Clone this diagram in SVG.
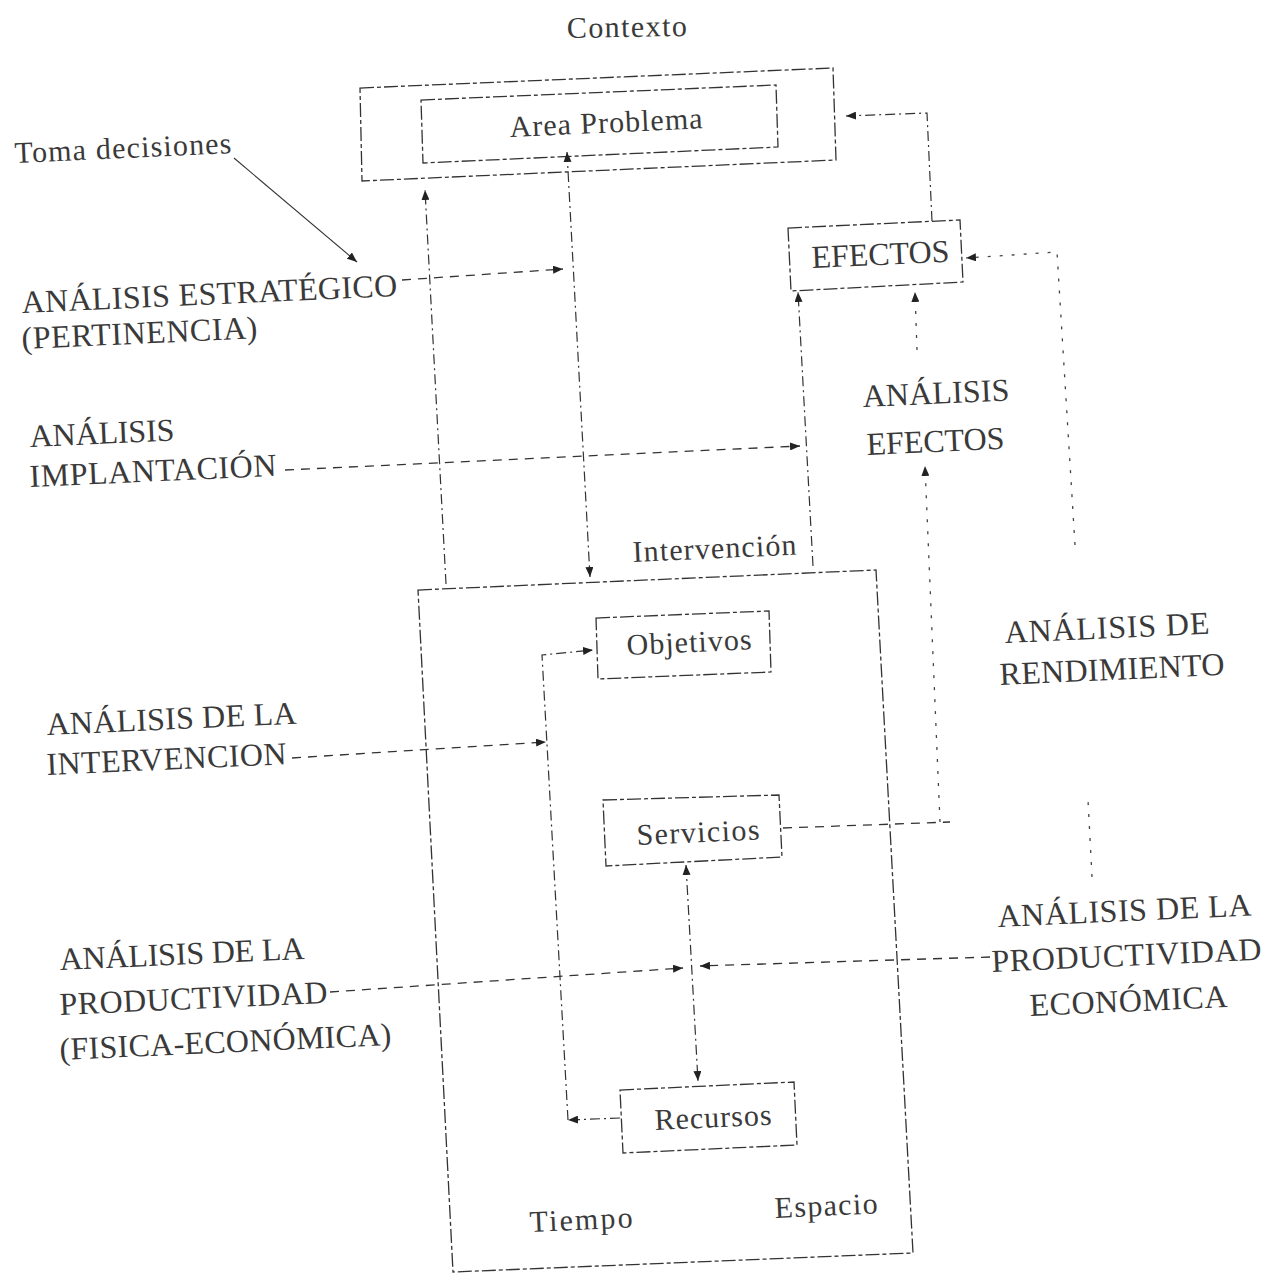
<svg xmlns="http://www.w3.org/2000/svg" width="1270" height="1273" viewBox="0 0 1270 1273">
<style>
.bg{fill:#ffffff}
.box{fill:none;stroke:#333;stroke-width:1.3;stroke-dasharray:14 3 4 3}
.dash{fill:none;stroke:#333;stroke-width:1.3;stroke-dasharray:9 7}
.dd{fill:none;stroke:#333;stroke-width:1.2;stroke-dasharray:10 4 2 4}
.dot{fill:none;stroke:#444;stroke-width:1.3;stroke-dasharray:3 9}
.solid{fill:none;stroke:#333;stroke-width:1.1}
.t{font-family:"Liberation Serif","Times New Roman",serif;font-size:32px;fill:#3a3a3a}
.s{font-size:30px}
</style>
<defs>
<marker id="ah" viewBox="0 0 10 8" refX="10" refY="4" markerWidth="10" markerHeight="8" markerUnits="userSpaceOnUse" orient="auto-start-reverse"><path d="M0,0 L10,4 L0,8 z" fill="#222"/></marker>
</defs>
<rect class="bg" x="0" y="0" width="1270" height="1273"/>

<g id="contexto">
<polygon class="box" points="360,88 833,68 836,160 362,181"/>
<text class="t s" x="567" y="38" textLength="120" lengthAdjust="spacing" transform="rotate(-1 567 38)">Contexto</text>
</g>
<g id="area-problema">
<polygon class="box" points="421,100 776,85 778,147 423,163"/>
<text class="t s" x="510" y="137" textLength="193" lengthAdjust="spacing" transform="rotate(-2.6 510 137)">Area Problema</text>
</g>
<g id="efectos">
<polygon class="box" points="788,228 960,220 963,282 791,291"/>
<text class="t" x="812" y="268" textLength="138" lengthAdjust="spacing" transform="rotate(-2.6 812 268)">EFECTOS</text>
</g>
<g id="intervencion">
<polygon class="box" points="418,590 876,570 913,1253 453,1272"/>
<text class="t s" x="633" y="562" textLength="164" lengthAdjust="spacing" transform="rotate(-2.6 633 562)">Intervención</text>
<text class="t s" x="530" y="1232" textLength="103" lengthAdjust="spacing" transform="rotate(-2.6 530 1232)">Tiempo</text>
<text class="t s" x="775" y="1218" textLength="103" lengthAdjust="spacing" transform="rotate(-2.6 775 1218)">Espacio</text>
</g>
<g id="objetivos">
<polygon class="box" points="596,618 769,611 771,672 598,679"/>
<text class="t s" x="627" y="655" textLength="125" lengthAdjust="spacing" transform="rotate(-2.6 627 655)">Objetivos</text>
</g>
<g id="servicios">
<polygon class="box" points="603,800 779,795 782,857 606,866"/>
<text class="t s" x="637" y="845" textLength="123" lengthAdjust="spacing" transform="rotate(-2.6 637 845)">Servicios</text>
</g>
<g id="recursos">
<polygon class="box" points="620,1090 794,1082 797,1145 623,1153"/>
<text class="t s" x="655" y="1130" textLength="117" lengthAdjust="spacing" transform="rotate(-2.6 655 1130)">Recursos</text>
</g>

<g id="toma-decisiones">
<text class="t s" x="15" y="163" textLength="217" lengthAdjust="spacing" transform="rotate(-2.6 15 163)">Toma decisiones</text>
</g>
<g id="analisis-estrategico">
<text class="t" x="22" y="313" textLength="376" lengthAdjust="spacing" transform="rotate(-2.6 22 313)">ANÁLISIS ESTRATÉGICO</text>
<text class="t" x="22" y="349" textLength="236" lengthAdjust="spacing" transform="rotate(-2.6 22 349)">(PERTINENCIA)</text>
</g>
<g id="analisis-implantacion">
<text class="t" x="30" y="447" textLength="145" lengthAdjust="spacing" transform="rotate(-2.6 30 447)">ANÁLISIS</text>
<text class="t" x="30" y="487" textLength="247" lengthAdjust="spacing" transform="rotate(-2.6 30 487)">IMPLANTACIÓN</text>
</g>
<g id="analisis-efectos">
<text class="t" x="863" y="407" textLength="147" lengthAdjust="spacing" transform="rotate(-2.6 863 407)">ANÁLISIS</text>
<text class="t" x="867" y="455" textLength="138" lengthAdjust="spacing" transform="rotate(-2.6 867 455)">EFECTOS</text>
</g>
<g id="analisis-rendimiento">
<text class="t" x="1005" y="643" textLength="205" lengthAdjust="spacing" transform="rotate(-2.6 1005 643)">ANÁLISIS DE</text>
<text class="t" x="1000" y="685" textLength="225" lengthAdjust="spacing" transform="rotate(-2.6 1000 685)">RENDIMIENTO</text>
</g>
<g id="analisis-intervencion">
<text class="t" x="47" y="735" textLength="250" lengthAdjust="spacing" transform="rotate(-2.6 47 735)">ANÁLISIS DE LA</text>
<text class="t" x="47" y="775" textLength="240" lengthAdjust="spacing" transform="rotate(-2.6 47 775)">INTERVENCION</text>
</g>
<g id="analisis-productividad-economica">
<text class="t" x="998" y="927" textLength="254" lengthAdjust="spacing" transform="rotate(-2.6 998 927)">ANÁLISIS DE LA</text>
<text class="t" x="992" y="972" textLength="270" lengthAdjust="spacing" transform="rotate(-2.6 992 972)">PRODUCTIVIDAD</text>
<text class="t" x="1030" y="1016" textLength="198" lengthAdjust="spacing" transform="rotate(-2.6 1030 1016)">ECONÓMICA</text>
</g>
<g id="analisis-productividad-fisica">
<text class="t" x="60" y="970" textLength="245" lengthAdjust="spacing" transform="rotate(-2.6 60 970)">ANÁLISIS DE LA</text>
<text class="t" x="60" y="1015" textLength="268" lengthAdjust="spacing" transform="rotate(-2.6 60 1015)">PRODUCTIVIDAD</text>
<text class="t" x="60" y="1060" textLength="332" lengthAdjust="spacing" transform="rotate(-2.6 60 1060)">(FISICA-ECONÓMICA)</text>
</g>

<g id="connectors">
<line class="solid" x1="234" y1="158" x2="357" y2="262" marker-end="url(#ah)"/>
<line class="dash" x1="402" y1="280" x2="563" y2="269" marker-end="url(#ah)"/>
<line class="dd" x1="567" y1="152" x2="590" y2="577" marker-start="url(#ah)" marker-end="url(#ah)"/>
<line class="dd" x1="446" y1="584" x2="425" y2="190" marker-end="url(#ah)"/>
<line class="dash" x1="285" y1="470" x2="800" y2="446" marker-end="url(#ah)"/>
<line class="dd" x1="813" y1="566" x2="798" y2="292" marker-end="url(#ah)"/>
<polyline class="dd" points="932,221 927,113 846,116" marker-end="url(#ah)"/>
<polyline class="dot" points="1075,545 1057,252 966,258" marker-end="url(#ah)"/>
<line class="dot" x1="1092" y1="877" x2="1088" y2="800"/>
<line class="dash" x1="783" y1="828" x2="950" y2="822"/>
<line class="dot" x1="940" y1="822" x2="925" y2="466" marker-end="url(#ah)"/>
<line class="dot" x1="917" y1="350" x2="915" y2="292" marker-end="url(#ah)"/>
<line class="dd" x1="686" y1="865" x2="698" y2="1081" marker-start="url(#ah)" marker-end="url(#ah)"/>
<line class="dash" x1="330" y1="992" x2="683" y2="968" marker-end="url(#ah)"/>
<line class="dash" x1="990" y1="957" x2="700" y2="966" marker-end="url(#ah)"/>
<line class="dd" x1="620" y1="1118" x2="568" y2="1120" marker-end="url(#ah)"/>
<polyline class="dd" points="568,1120 542,655 593,650" marker-end="url(#ah)"/>
<line class="dash" x1="292" y1="758" x2="546" y2="742" marker-end="url(#ah)"/>
</g>
</svg>
